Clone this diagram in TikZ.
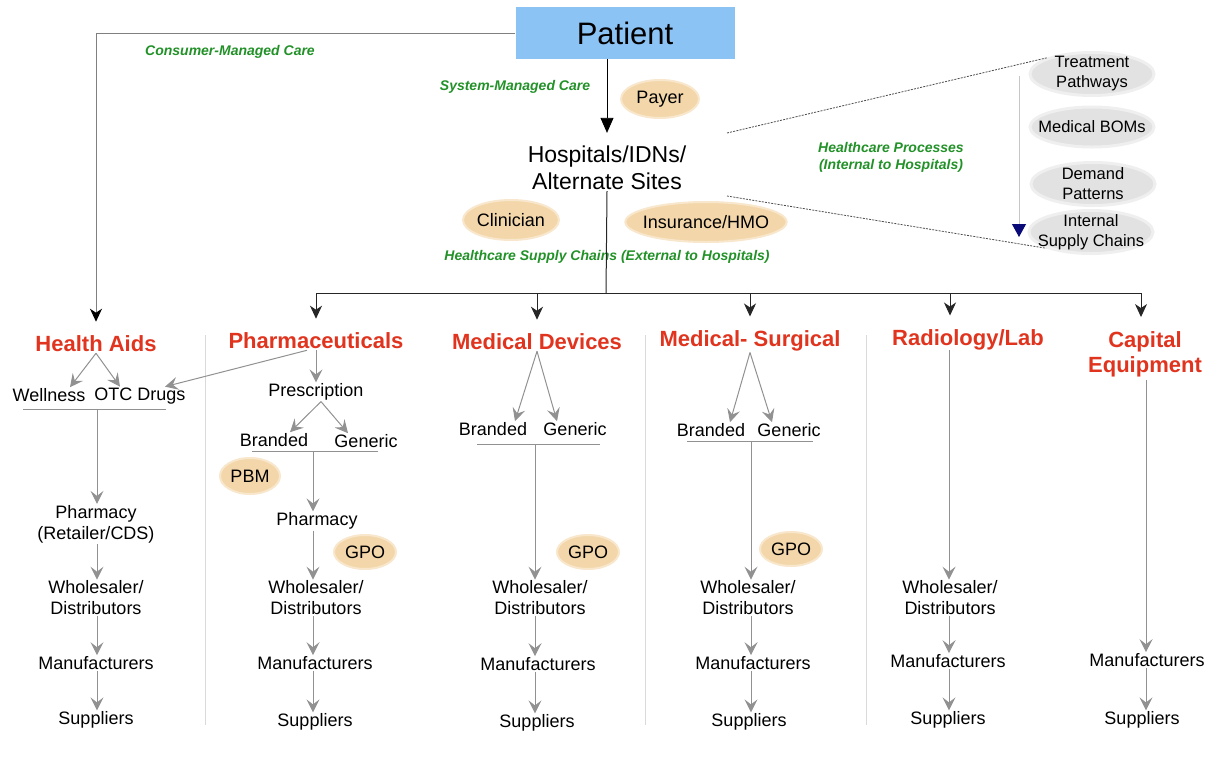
\documentclass[tikz,border=0pt]{standalone}
\usepackage{fontspec}
\setmainfont{Liberation Sans}
\usepackage{tikz}
\usetikzlibrary{arrows.meta,calc,positioning,shapes.geometric}
\definecolor{catred}{RGB}{224,52,30}
\definecolor{caregreen}{RGB}{34,145,40}
\definecolor{roletan}{RGB}{243,215,170}
\definecolor{procgray}{RGB}{226,226,226}
\definecolor{patientblue}{RGB}{140,195,245}
\definecolor{flowgray}{RGB}{145,145,145}
\definecolor{sepgray}{RGB}{218,218,218}
\definecolor{navyhead}{RGB}{10,10,120}
\tikzset{
  itemtext/.style={align=center, inner sep=1pt, font=\fontsize{18}{21}\selectfont},
  cattext/.style={align=center, inner sep=1pt, text=catred, font=\fontsize{22}{25}\selectfont\bfseries},
  caretext/.style={align=center, inner sep=0pt, text=caregreen, font=\fontsize{14}{17}\selectfont\bfseries\itshape},
  roleblob/.style={ellipse, fill=roletan, draw=roletan!60, line width=2pt, inner xsep=-6pt, inner ysep=0pt, font=\fontsize{18}{21}\selectfont},
  procblob/.style={ellipse, fill=procgray, draw=procgray!55, line width=3pt, align=center, inner xsep=-10pt, inner ysep=-8pt,
    minimum width=124pt, minimum height=43pt, font=\fontsize{16.5}{20}\selectfont},
  patientbox/.style={fill=patientblue, minimum width=219pt, minimum height=52pt, font=\fontsize{31}{35}\selectfont},
  mainarrow/.style={-{Triangle[length=15pt,width=13pt]}, line width=0.8pt, shorten >=12pt},
  busline/.style={line width=1pt, black!85},
  busarrow/.style={busline, -{Stealth[length=13pt,width=12pt,inset=4pt]}, shorten >=13pt},
  consline/.style={line width=1pt, black!50, -{Stealth[length=13pt,width=12pt,inset=4pt,color=black]}, shorten >=13pt},
  flowline/.style={line width=1pt, flowgray},
  flowarrow/.style={flowline, -{Stealth[length=13pt,width=13pt,inset=5pt]}},
  sepline/.style={line width=1pt, sepgray},
  procline/.style={line width=0.8pt, black!70, dash pattern=on 2pt off 1.2pt},
  procflow/.style={line width=1pt, black!22, -{Triangle[length=13pt,width=14pt,color=navyhead]}}
}

\begin{document}
\begin{tikzpicture}[x=1pt, y=-1pt]
  \useasboundingbox (0,0) rectangle (1221,756);

  \node[patientbox] (patient) at (625,33) {Patient};
  \node[itemtext, font=\fontsize{23}{27}\selectfont] (hosp) at (607,168) {Hospitals/IDNs/\\Alternate Sites};
  \node[roleblob, minimum width=78pt, minimum height=38pt] (payer) at (660,99) {Payer};
  \node[roleblob, minimum width=96pt, minimum height=40pt] (clin) at (511,220) {Clinician};
  \node[roleblob, minimum width=160pt, minimum height=40pt] (ins) at (706,222) {Insurance/HMO};
  \node[caretext] (cmc) at (230,52) {Consumer-Managed Care};
  \node[caretext] (smc) at (515,87) {System-Managed Care};
  \node[caretext] (hsc) at (607,257) {Healthcare Supply Chains (External to Hospitals)};
  \node[caretext] (hpi) at (891,157) {Healthcare Processes\\(Internal to Hospitals)};

  \node[procblob] (treat) at (1092,74) {Treatment\\Pathways};
  \node[procblob, minimum height=40pt] (boms) at (1092,127) {Medical BOMs};
  \node[procblob] (demand) at (1093,184) {Demand\\Patterns};
  \node[procblob] (isc) at (1091,232) {Internal\\Supply Chains};

  \node[cattext] (aids) at (96,344) {Health Aids};
  \node[cattext] (pharma) at (316,341) {Pharmaceuticals};
  \node[cattext] (devices) at (537,342) {Medical Devices};
  \node[cattext] (medsurg) at (750,341) {Medical- Surgical};
  \node[cattext] (radlab) at (968,340) {Radiology/Lab};
  \node[cattext] (capital) at (1145,354) {Capital\\Equipment};

  \node[itemtext] (well) at (49,395) {Wellness};
  \node[itemtext] (otc) at (140,396) {OTC Drugs};
  \node[itemtext] (hapharm) at (96,524) {Pharmacy\\(Retailer/CDS)};
  \node[itemtext] (hawhole) at (96,598) {Wholesaler/\\Distributors};
  \node[itemtext] (hamanu) at (96,663) {Manufacturers};
  \node[itemtext] (hasupp) at (96,720) {Suppliers};

  \node[itemtext] (presc) at (316,392) {Prescription};
  \node[itemtext] (phbrand) at (274,440) {Branded};
  \node[itemtext] (phgen) at (366,441) {Generic};
  \node[roleblob, minimum width=60pt, minimum height=36pt] (pbm) at (250,476) {PBM};
  \node[itemtext] (phpharm) at (317,521) {Pharmacy};
  \node[roleblob, minimum width=62pt, minimum height=34pt] (phgpo) at (365,552) {GPO};
  \node[itemtext] (phwhole) at (316,598) {Wholesaler/\\Distributors};
  \node[itemtext] (phmanu) at (315,663) {Manufacturers};
  \node[itemtext] (phsupp) at (315,722) {Suppliers};

  \node[itemtext] (dvbrand) at (493,429) {Branded};
  \node[itemtext] (dvgen) at (575,429) {Generic};
  \node[roleblob, minimum width=62pt, minimum height=34pt] (dvgpo) at (588,552) {GPO};
  \node[itemtext] (dvwhole) at (540,598) {Wholesaler/\\Distributors};
  \node[itemtext] (dvmanu) at (538,664) {Manufacturers};
  \node[itemtext] (dvsupp) at (537,723) {Suppliers};

  \node[itemtext] (msbrand) at (711,430) {Branded};
  \node[itemtext] (msgen) at (789,430) {Generic};
  \node[roleblob, minimum width=62pt, minimum height=34pt] (msgpo) at (791,549) {GPO};
  \node[itemtext] (mswhole) at (748,598) {Wholesaler/\\Distributors};
  \node[itemtext] (msmanu) at (753,663) {Manufacturers};
  \node[itemtext] (mssupp) at (749,722) {Suppliers};

  \node[itemtext] (rlwhole) at (950,598) {Wholesaler/\\Distributors};
  \node[itemtext] (rlmanu) at (948,661) {Manufacturers};
  \node[itemtext] (rlsupp) at (948,720) {Suppliers};

  \node[itemtext] (cpmanu) at (1147,660) {Manufacturers};
  \node[itemtext] (cpsupp) at (1142,720) {Suppliers};

  \coordinate (bus) at (606,293);
  \coordinate (procTop) at (727,133);
  \coordinate (procBot) at (727,196);
  \coordinate (flowTop) at (1019,76);
  \coordinate (flowBot) at (1019,237);
  \coordinate (habar) at (97,409);
  \coordinate (phbar) at (313,451);
  \coordinate (dvbar) at (535,444);
  \coordinate (msbar) at (751,441);
  \coordinate (rlbar) at (949,350);
  \coordinate (cpbar) at (1146,380);

  \foreach \sx in {205,645,866}
    \draw[sepline] (\sx,335) -- (\sx,725);

  \draw[consline] (patient.west) -| (aids.north);
  \draw[mainarrow] (patient.south -| hosp.north) -- (hosp.north);
  \draw[busline] (hosp.south) -- (bus);
  \draw[busarrow] (bus) -| (pharma.north);
  \draw[busarrow] (bus) -| (devices.north);
  \draw[busarrow] (bus) -| (medsurg.north);
  \draw[busarrow] (bus) -| ([xshift=-18pt]radlab.north);
  \draw[busarrow] (bus) -| ([xshift=-4pt]capital.north);

  \draw[procline] (procTop) -- (treat.north west);
  \draw[procline] (procBot) -- (isc.south west);
  \draw[procflow] (flowTop) -- (flowBot);

  \draw[flowarrow] (aids.south) -- ([xshift=21pt]well.north);
  \draw[flowarrow] (aids.south) -- ([xshift=-20pt]otc.north);
  \draw[flowarrow] ([xshift=-9pt]pharma.south) -- ([xshift=25pt]otc.north);
  \draw[flowline] (23,409) -- (166,409);
  \draw[flowarrow] (habar) -- (habar |- hapharm.north);
  \draw[flowarrow] (habar |- hapharm.south) -- (habar |- hawhole.north);
  \draw[flowarrow] (habar |- hawhole.south) -- (habar |- hamanu.north);
  \draw[flowarrow] (habar |- hamanu.south) -- (habar |- hasupp.north);

  \draw[flowarrow] (pharma.south) -- (presc.north);
  \draw[flowarrow] ([xshift=5pt]presc.south) -- ([xshift=16pt]phbrand.north);
  \draw[flowarrow] ([xshift=5pt]presc.south) -- ([xshift=-18pt]phgen.north);
  \draw[flowline] (252,451) -- (378,451);
  \draw[flowarrow] (phbar) -- (phbar |- phpharm.north);
  \draw[flowarrow] (phbar |- phpharm.south) -- (phbar |- phwhole.north);
  \draw[flowarrow] (phbar |- phwhole.south) -- (phbar |- phmanu.north);
  \draw[flowarrow] (phbar |- phmanu.south) -- (phbar |- phsupp.north);

  \draw[flowarrow] (devices.south) -- ([xshift=22pt]dvbrand.north);
  \draw[flowarrow] (devices.south) -- ([xshift=-18pt]dvgen.north);
  \draw[flowline] (477,444) -- (600,444);
  \draw[flowarrow] (dvbar) -- (dvbar |- dvwhole.north);
  \draw[flowarrow] (dvbar |- dvwhole.south) -- (dvbar |- dvmanu.north);
  \draw[flowarrow] (dvbar |- dvmanu.south) -- (dvbar |- dvsupp.north);

  \draw[flowarrow] (medsurg.south) -- ([xshift=19pt]msbrand.north);
  \draw[flowarrow] (medsurg.south) -- ([xshift=-17pt]msgen.north);
  \draw[flowline] (687,441) -- (813,441);
  \draw[flowarrow] (msbar) -- (msbar |- mswhole.north);
  \draw[flowarrow] (msbar |- mswhole.south) -- (msbar |- msmanu.north);
  \draw[flowarrow] (msbar |- msmanu.south) -- (msbar |- mssupp.north);

  \draw[flowarrow] (rlbar) -- (rlbar |- rlwhole.north);
  \draw[flowarrow] (rlbar |- rlwhole.south) -- (rlbar |- rlmanu.north);
  \draw[flowarrow] (rlbar |- rlmanu.south) -- (rlbar |- rlsupp.north);

  \draw[flowarrow] (cpbar) -- (cpbar |- cpmanu.north);
  \draw[flowarrow] (cpbar |- cpmanu.south) -- (cpbar |- cpsupp.north);
\end{tikzpicture}
\end{document}
